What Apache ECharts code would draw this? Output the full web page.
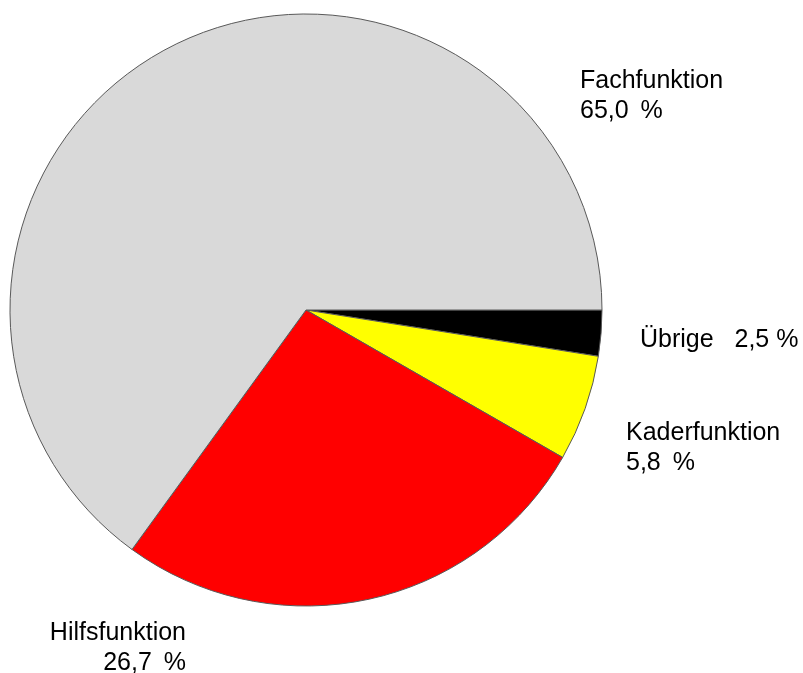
<!DOCTYPE html>
<html>
<head>
<meta charset="utf-8">
<script src="https://cdn.jsdelivr.net/npm/echarts@6/dist/echarts.min.js"></script>
<style>
html,body{margin:0;padding:0;background:#fff;}
#chart{width:803px;height:673px;}
</style>
</head>
<body>
<div id="chart"></div>
<script>
// Data (clockwise from 3 o'clock)
const categories = ['Übrige', 'Kaderfunktion', 'Hilfsfunktion', 'Fachfunktion'];
const values = [2.5, 5.8, 26.7, 65.0];
const separators = ['   ', '\n', '\n', '\n'];
const unitGaps = [' ', '\u2009 ', '\u2009 ', '\u2009 '];
const colors = ['#000000', '#ffff00', '#ff0000', '#d9d9d9'];
// label anchor positions [x, y, align]
const labelPos = [
  [640, 340, 'left'],
  [626, 448, 'left'],
  [186, 648, 'right'],
  [580, 96, 'left']
];

const chart = echarts.init(document.getElementById('chart'), null, {renderer: 'canvas'});
const data = categories.map((c, i) => ({
  name: c,
  value: values[i],
  itemStyle: {color: colors[i]}
}));

chart.setOption({
  animation: false,
  backgroundColor: '#ffffff',
  series: [{
    type: 'pie',
    center: [306, 310],
    radius: [0, 296],
    startAngle: 0,
    clockwise: true,
    avoidLabelOverlap: false,
    emphasis: {disabled: true},
    itemStyle: {borderColor: '#595959', borderWidth: 1},
    label: {
      show: true,
      position: 'outside',
      color: '#000',
      fontFamily: 'Liberation Sans, Arial, sans-serif',
      fontSize: 25,
      lineHeight: 30,
      formatter: function (p) {
        return p.name + separators[p.dataIndex] + p.value.toFixed(1).replace('.', ',') + unitGaps[p.dataIndex] + '%';
      }
    },
    labelLine: {show: false},
    labelLayout: function (params) {
      const p = labelPos[params.dataIndex];
      return {x: p[0], y: p[1], align: p[2], verticalAlign: 'middle'};
    },
    data: data
  }]
});
</script>
</body>
</html>
